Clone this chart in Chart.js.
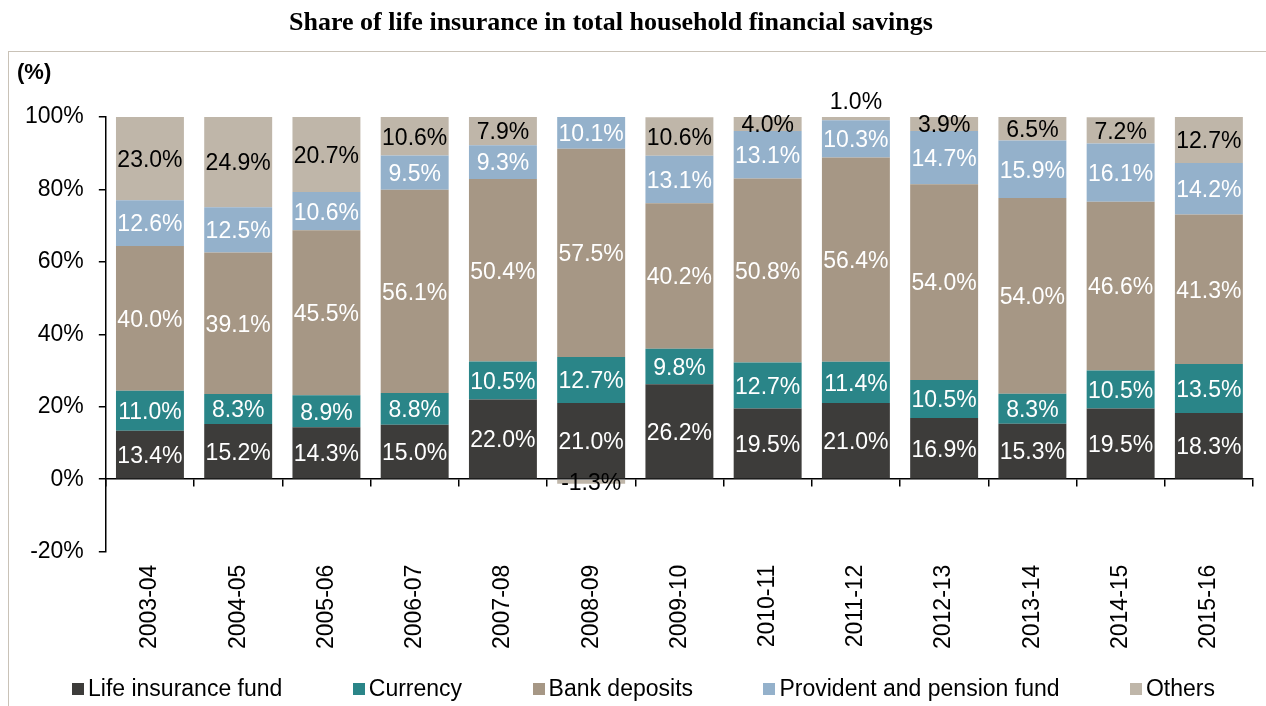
<!DOCTYPE html>
<html>
<head>
<meta charset="utf-8">
<script src="https://cdn.jsdelivr.net/npm/chart.js@4.4.1/dist/chart.umd.min.js"></script>
<style>
  html, body { margin: 0; padding: 0; background: #fff; }
  #wrap { position: relative; width: 1266px; height: 706px; overflow: hidden; font-family: "Liberation Sans", Arial, sans-serif; }
  #frame { position: absolute; left: 8px; top: 51px; right: -2px; bottom: -2px; border-top: 1px solid #c9c2b7; border-left: 1px solid #c9c2b7; }
  #title { position: absolute; left: 0; top: 7px; width: 1222px; text-align: center; font: bold 26px "Liberation Serif", "Times New Roman", serif; color: #000; }
  #unit { position: absolute; left: 17px; top: 59px; font: bold 22px "Liberation Sans", Arial, sans-serif; color: #000; }
  #legend { position: absolute; left: 72px; width: 1143px; top: 675px; display: flex; justify-content: space-between; font-size: 23px; color: #000; }
  #legend .item { display: flex; align-items: center; white-space: nowrap; }
  #legend .box { width: 12px; height: 12px; margin-right: 4px; }
  canvas { position: absolute; left: 0; top: 0; }
</style>
</head>
<body>
<div id="wrap">
  <div id="frame"></div>
  <canvas id="chart" width="1266" height="706"></canvas>
  <div id="title">Share of life insurance in total household financial savings</div>
  <div id="unit">(%)</div>
  <div id="legend"></div>
</div>
<script>
const years = ['2003-04','2004-05','2005-06','2006-07','2007-08','2008-09','2009-10','2010-11','2011-12','2012-13','2013-14','2014-15','2015-16'];

const lifeFund  = [13.4, 15.2, 14.3, 15.0, 22.0, 21.0, 26.2, 19.5, 21.0, 16.9, 15.3, 19.5, 18.3];
const currency  = [11.0, 8.3, 8.9, 8.8, 10.5, 12.7, 9.8, 12.7, 11.4, 10.5, 8.3, 10.5, 13.5];
const bankDep   = [40.0, 39.1, 45.5, 56.1, 50.4, 57.5, 40.2, 50.8, 56.4, 54.0, 54.0, 46.6, 41.3];
const provident = [12.6, 12.5, 10.6, 9.5, 9.3, 10.1, 13.1, 13.1, 10.3, 14.7, 15.9, 16.1, 14.2];
const others    = [23.0, 24.9, 20.7, 10.6, 7.9, -1.3, 10.6, 4.0, 1.0, 3.9, 6.5, 7.2, 12.7];

const seriesNames = ['Life insurance fund', 'Currency', 'Bank deposits', 'Provident and pension fund', 'Others'];
const seriesData = [lifeFund, currency, bankDep, provident, others];
const seriesColors = ['#3d3c3a', '#2a8588', '#a69785', '#94b1cb', '#bfb6a9'];
const labelColors = ['#fff', '#fff', '#fff', '#fff', '#000'];

const yTicks = [-20, 0, 20, 40, 60, 80, 100];

const FONT = '"Liberation Sans", Arial, sans-serif';

// value labels in the middle of every segment
const segLabels = {
  id: 'segLabels',
  afterDatasetsDraw(chart) {
    const ctx = chart.ctx;
    ctx.save();
    ctx.font = '23px ' + FONT;
    ctx.textAlign = 'center';
    ctx.textBaseline = 'middle';
    chart.data.datasets.forEach((ds, i) => {
      const meta = chart.getDatasetMeta(i);
      meta.data.forEach((bar, j) => {
        const v = ds.data[j];
        const top = Math.max(Math.min(bar.y, bar.base), chart.chartArea.top);
        const bot = Math.max(bar.y, bar.base);
        let yc = (top + bot) / 2;
        if (v > 0 && bot - top < 8) yc = top - 16;
        ctx.fillStyle = labelColors[i];
        ctx.fillText(v.toFixed(1) + '%', bar.x, yc + 2);
      });
    });
    ctx.restore();
  }
};

new Chart(document.getElementById('chart'), {
  type: 'bar',
  data: {
    labels: years,
    datasets: seriesNames.map((n, i) => ({
      label: n,
      data: seriesData[i],
      backgroundColor: seriesColors[i],
      borderWidth: 0,
      barPercentage: 0.77,
      categoryPercentage: 1
    }))
  },
  options: {
    responsive: false,
    animation: false,
    layout: { padding: { top: 117, left: 10, right: 13, bottom: 44 } },
    plugins: { legend: { display: false }, title: { display: false }, tooltip: { enabled: false } },
    scales: {
      x: {
        stacked: true,
        grid: { display: false, drawTicks: false },
        border: { display: false },
        ticks: { color: '#000', font: { size: 23, family: FONT }, minRotation: 90, maxRotation: 90, padding: 13 }
      },
      xZero: {
        axis: 'x',
        type: 'category',
        labels: years,
        position: { y: 0 },
        offset: true,
        grid: { display: true, offset: true, drawOnChartArea: false, drawTicks: true, tickLength: 7, color: '#000', lineWidth: 1.5 },
        border: { display: true, color: '#000', width: 1.5 },
        ticks: { display: false }
      },
      y: {
        stacked: true,
        min: -20,
        max: 100,
        afterBuildTicks: (s) => { s.ticks = yTicks.map(v => ({ value: v })); },
        grid: { display: true, drawOnChartArea: false, drawTicks: true, tickLength: 7, color: '#000', lineWidth: 1.5 },
        border: { display: true, color: '#000', width: 1.5 },
        ticks: { color: '#000', font: { size: 23, family: FONT }, padding: 15, callback: v => v + '%' }
      }
    }
  },
  plugins: [segLabels]
});

document.getElementById('legend').innerHTML = seriesNames.map((n, i) =>
  `<div class="item"><span class="box" style="background:${seriesColors[i]}"></span>${n}</div>`).join('');
</script>
</body>
</html>
